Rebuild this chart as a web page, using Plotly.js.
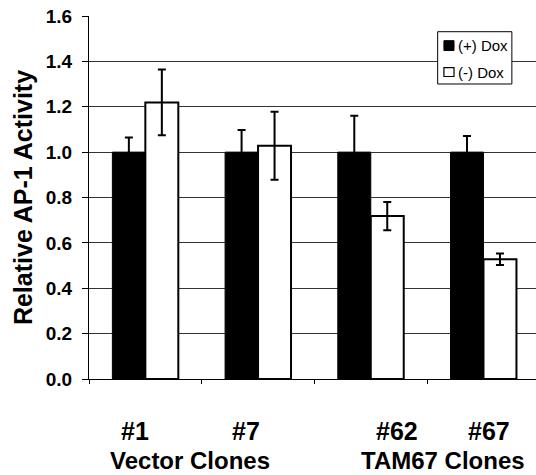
<!DOCTYPE html>
<html><head><meta charset="utf-8">
<script src="https://cdn.plot.ly/plotly-3.0.1.min.js"></script>
<style>html,body{margin:0;padding:0;background:#fff}#chart{width:536px;height:475px}</style>
</head><body><div id="chart"></div>
<script>
const groupPos = [0, 1, 2, 3];
const cloneLabels = ['#1', '#7', '#62', '#67'];
const cloneLabelPos = [-0.089, 0.894, 2.229, 3.045];
const groupNames = ['Vector Clones', 'TAM67 Clones'];
const groupNamePos = [0.398, 2.64];
const seriesNames = ['(+) Dox', '(-) Dox'];
const plusDox = [1.0, 1.0, 1.0, 1.0];
const plusDoxErr = [0.065, 0.097, 0.16, 0.071];
const minusDox = [1.219, 1.028, 0.718, 0.528];
const minusDoxErr = [0.145, 0.15, 0.062, 0.025];
const yTicks = [0, 0.2, 0.4, 0.6, 0.8, 1.0, 1.2, 1.4, 1.6];

const font = 'Liberation Sans, Arial, sans-serif';
const traces = [
  {type:'bar', name:seriesNames[0], x:groupPos, y:plusDox, showlegend:false,
   marker:{color:'#000', line:{color:'#000', width:1}},
   error_y:{type:'data', array:plusDoxErr, color:'#000', thickness:2, width:4}},
  {type:'bar', name:seriesNames[1], x:groupPos, y:minusDox, showlegend:false,
   marker:{color:'#fff', line:{color:'#000', width:2}},
   error_y:{type:'data', array:minusDoxErr, color:'#000', thickness:2, width:4}}
];
const annotations = [];
cloneLabels.forEach((t,i)=>annotations.push({x:cloneLabelPos[i], y:0, xref:'x', yref:'paper',
  yanchor:'middle', yshift:-52, text:'<b>'+t+'</b>', showarrow:false, font:{family:font, size:25, color:'#000'}}));
groupNames.forEach((t,i)=>annotations.push({x:groupNamePos[i], y:0, xref:'x', yref:'paper',
  yanchor:'middle', yshift:-81, text:'<b>'+t+'</b>', showarrow:false, font:{family:font, size:24, color:'#000'}}));

// compact legend box, as in the original
const shapes = [
  {type:'rect', xref:'paper', yref:'paper', x0:0.780, x1:0.946, y0:0.8127, y1:0.9567,
   fillcolor:'#fff', line:{color:'#000', width:1}, layer:'above'},
  {type:'rect', xref:'paper', yref:'paper', x0:0.794, x1:0.8166, y0:0.905, y1:0.932,
   fillcolor:'#000', line:{color:'#000', width:1}, layer:'above'},
  {type:'rect', xref:'paper', yref:'paper', x0:0.794, x1:0.8166, y0:0.8333, y1:0.8576,
   fillcolor:'#fff', line:{color:'#000', width:1.2}, layer:'above'}
];
[0.9187, 0.8457].forEach((yy,i)=>annotations.push({x:0.821, y:yy, xref:'paper', yref:'paper',
  xanchor:'left', yanchor:'middle', text:seriesNames[i], showarrow:false,
  font:{family:font, size:15, color:'#000'}}));

const layout = {
  width:536, height:475,
  margin:{l:89, r:0, t:16, b:96},
  paper_bgcolor:'#fff', plot_bgcolor:'#fff',
  barmode:'group', bargap:0.415, bargroupgap:0,
  showlegend:false,
  xaxis:{range:[-0.5,3.466], tickvals:[-0.5,0.5,1.5,2.5], showticklabels:false, ticks:'outside', ticklen:4,
    tickcolor:'#000', showline:true, linecolor:'#000', linewidth:1, showgrid:false, zeroline:false, fixedrange:true},
  yaxis:{range:[0,1.6], tickvals:yTicks, tickformat:'.1f', ticks:'outside', ticklen:6, tickcolor:'#000',
    ticklabelstandoff:6,
    showline:true, linecolor:'#000', linewidth:1, showgrid:true, gridcolor:'#333', gridwidth:1, zeroline:false,
    tickfont:{family:font, size:19, color:'#000', weight:'bold'},
    title:{text:'<b>Relative AP-1 Activity</b>', font:{family:font, size:25, color:'#000'}, standoff:6}},
  shapes:shapes,
  annotations:annotations
};
Plotly.newPlot('chart', traces, layout, {displayModeBar:false, staticPlot:true});
</script></body></html>
